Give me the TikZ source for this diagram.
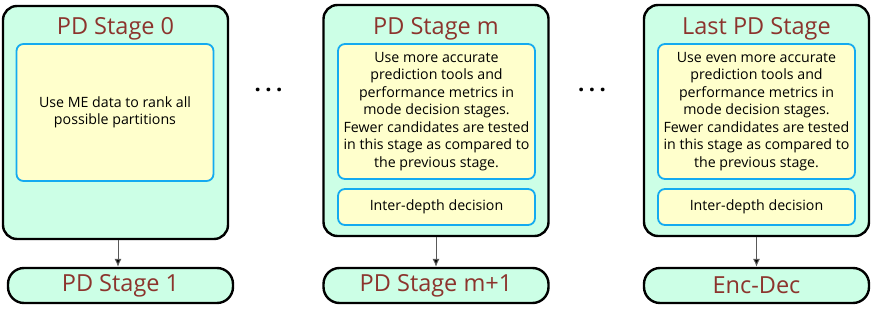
\documentclass[tikz,border=0pt]{standalone}
\usepackage{fontspec}
\setmainfont{Open Sans}
\usetikzlibrary{arrows.meta}
\definecolor{stagegreen}{RGB}{204,255,230}
\definecolor{tooly}{RGB}{255,255,204}
\definecolor{toolblue}{RGB}{20,170,240}
\definecolor{titlered}{RGB}{140,52,45}
\tikzset{
  stage_box/.style = {draw=black, line width=2.4pt, rounded corners=14pt,
    fill=stagegreen, minimum width=225pt, inner sep=0pt},% bloc d'une etape
  stage_title/.style = {font=\fontsize{23.5}{26}\selectfont, text=titlered},
  tool_box/.style = {draw=toolblue, line width=1.8pt, rounded corners=7pt,
    fill=tooly, minimum width=197pt, align=center, inner sep=0pt,
    font=\fontsize{14.2}{17.5}\selectfont},% boite jaune
  next_box/.style = {stage_box, minimum height=35pt, rounded corners=16pt,
    font=\fontsize{23.5}{26}\selectfont, text=titlered},
  dots_node/.style = {font=\fontsize{22}{24}\selectfont\bfseries},
  next_arrow/.style = {-{Latex[length=8pt,width=7pt,fill=black]}, line width=1pt, draw=black!65}
}

\begin{document}
\begin{tikzpicture}[x=1pt, y=-1pt]
  \useasboundingbox (0,0) rectangle (872,315);
  % etape 0
  \node [stage_box, minimum height=233pt] (stage0) at (115.5,122.5) {};
  \node [stage_title] (title0) at (115.5,29) {PD Stage 0};
  \node [tool_box, minimum height=137pt] (tool0) at (115,112.5)
    {Use ME data to rank all\\possible partitions};
  \node [next_box] (next0) at (120.5,285.5) {PD Stage 1};
  \draw [next_arrow] (stage0.south -| next0.north) ++(-2.5,0) -- ([xshift=-2.5pt]next0.north);
  \node [dots_node] (dots0) at (268.5,90) {.\kern4.5pt.\kern4.5pt.};
  % etape m
  \node [stage_box, minimum height=231pt] (stagem) at (436,120.5) {};
  \node [stage_title] (titlem) at (436,29) {PD Stage m};
  \node [tool_box, minimum height=135pt] (toolm) at (436.5,111.5)
    {Use more accurate\\prediction tools and\\performance metrics in\\mode decision stages.\\
     Fewer candidates are tested\\in this stage as compared to\\the previous stage.};
  \node [tool_box, minimum height=36pt] (depthm) at (436.5,207) {Inter-depth decision};
  \node [next_box] (nextm) at (436,285.5) {PD Stage m+1};
  \draw [next_arrow] (stagem.south) -- (nextm.north);
  \node [dots_node] (dotsm) at (592,90) {.\kern4.5pt.\kern4.5pt.};
  % derniere etape
  \node [stage_box, minimum height=231pt] (stagel) at (756.5,120.5) {};
  \node [stage_title] (titlel) at (756.5,29) {Last PD Stage};
  \node [tool_box, minimum height=135pt] (tooll) at (756.5,111.5)
    {Use even more accurate\\prediction tools and\\performance metrics in\\mode decision stages.\\
     Fewer candidates are tested\\in this stage as compared to\\the previous stage.};
  \node [tool_box, minimum height=36pt] (depthl) at (756.5,207) {Inter-depth decision};
  \node [next_box] (nextl) at (756.5,285.5) {Enc-Dec};
  \draw [next_arrow] (stagel.south) -- (nextl.north);
\end{tikzpicture}
\end{document}
